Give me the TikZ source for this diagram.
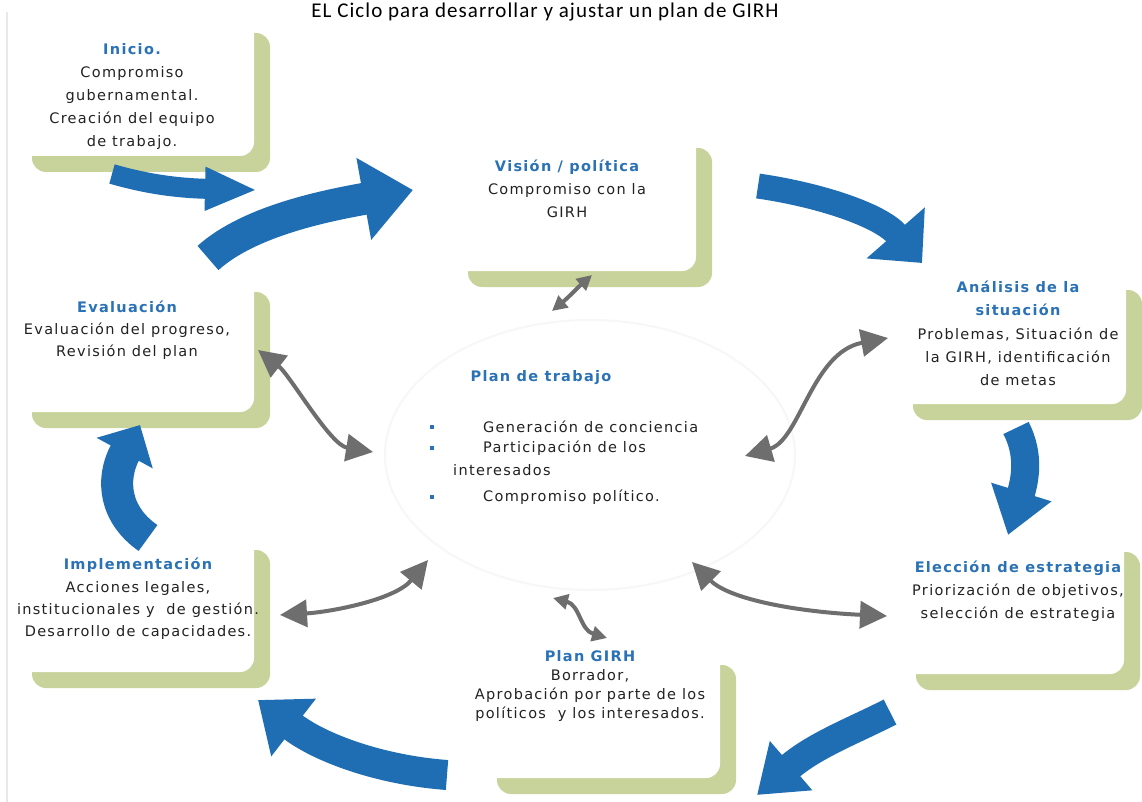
\documentclass[tikz,border=0pt]{standalone}
\usepackage{fontspec}
\setmainfont{DejaVu Sans}[LetterSpace=9]
\newfontfamily\ttlfont{Carlito}[LetterSpace=5]
\usetikzlibrary{arrows.meta,shadows}
\definecolor{grn}{HTML}{C8D39B}
\definecolor{blu}{HTML}{1F6EB4}
\definecolor{ttl}{HTML}{2A72B5}
\definecolor{gry}{HTML}{6E6E6E}
\definecolor{txtc}{HTML}{222222}
\newcommand\myfs[2]{\fontsize{#1}{#2}\selectfont}
\newcommand\hd[1]{{\bfseries\color{ttl}#1}}
\begin{document}
\begin{tikzpicture}[x=1pt,y=-1pt,
  box/.style={fill=white, rounded corners=14pt, inner sep=0pt,
    drop shadow={fill=grn, opacity=1, shadow xshift=16pt, shadow yshift=-16pt}},
  txt/.style={anchor=north, inner sep=0pt, align=center, text=txtc},
  bluarr/.style={draw=blu, line cap=butt},
  gryarr/.style={draw=gry, line width=4pt, {Triangle[length=#1,width=#1]}-{Triangle[length=#1,width=#1]}},
  bul/.style={fill=ttl, minimum size=4pt, inner sep=0pt}]
\useasboundingbox (0,0) rectangle (1142,802);
\fill[white] (0,0) rectangle (1142,802);
\draw[gray!18, line width=2pt] (7,12) -- (7,802);

% title
\node[font=\ttlfont\myfs{21}{24}, anchor=base, inner sep=0pt] (title) at (545,18) {EL Ciclo para desarrollar y ajustar un plan de GIRH};

% central ellipse
\draw[gray!6, line width=2pt] (590,455) ellipse [x radius=205, y radius=135];

% boxes
\node[box, minimum width=238pt, minimum height=139pt] (ini) at (135,86.5) {};
\node[box, minimum width=238pt, minimum height=136pt] (eva) at (135,344) {};
\node[box, minimum width=238pt, minimum height=138pt] (imp) at (135,603) {};
\node[box, minimum width=244pt, minimum height=139pt] (vis) at (574,201.5) {};
\node[box, minimum width=229pt, minimum height=130pt] (ana) at (1011.5,339) {};
\node[box, minimum width=224pt, minimum height=138pt] (ele) at (1012,605) {};
\node[box, minimum width=239pt, minimum height=129pt] (pla) at (600.5,713.5) {};

% blue cycle arrows
\coordinate (a1s) at (112,174); \coordinate (a1e) at (257,190);
\draw[bluarr, line width=20pt, -{Triangle[length=52pt,width=40pt]}] (a1s) .. controls (140,182) and (170,188) .. (a1e);
\coordinate (a2s) at (208,258); \coordinate (a2e) at (413,190);
\draw[bluarr, line width=32pt, -{Triangle[length=50pt,width=80pt]}] (a2s) .. controls (250,220) and (330,205) .. (a2e);
\coordinate (a3s) at (758,186); \coordinate (a3e) at (922,263);
\draw[bluarr, line width=25pt, -{Triangle[length=40pt,width=75pt]}] (a3s) .. controls (820,195) and (880,215) .. (a3e);
\coordinate (a4s) at (1016,428); \coordinate (a4e) at (1008,535);
\draw[bluarr, line width=28pt, -{Triangle[length=45pt,width=60pt]}] (a4s) .. controls (1030,455) and (1025,480) .. (a4e);
\coordinate (a5s) at (890,712); \coordinate (a5e) at (757,795);
\draw[bluarr, line width=28pt, -{Triangle[length=45pt,width=62pt]}] (a5s) .. controls (855,730) and (815,745) .. (a5e);
\coordinate (a6s) at (447,775); \coordinate (a6e) at (258,700);
\draw[bluarr, line width=30pt, -{Triangle[length=45pt,width=70pt]}] (a6s) .. controls (380,770) and (320,748) .. (a6e);
\coordinate (a7s) at (148,538); \coordinate (a7e) at (140,425);
\draw[bluarr, line width=32pt, -{Triangle[length=32pt,width=62pt]}] (a7s) .. controls (115,515) and (110,480) .. (a7e);

% grey double arrows
\coordinate (g1a) at (592,275); \coordinate (g1b) at (552,311);
\draw[gryarr=15pt] (g1a) .. controls (575,290) and (570,296) .. (g1b);
\coordinate (g2a) at (745,456); \coordinate (g2b) at (888,338);
\draw[gryarr=27pt] (g2a) .. controls (800,440) and (812,352) .. (g2b);
\coordinate (g3a) at (258,350); \coordinate (g3b) at (373,452);
\draw[gryarr=27pt] (g3a) .. controls (290,375) and (330,445) .. (g3b);
\coordinate (g4a) at (280,615); \coordinate (g4b) at (428,560);
\draw[gryarr=27pt] (g4a) .. controls (330,612) and (395,600) .. (g4b);
\coordinate (g5a) at (553,598); \coordinate (g5b) at (607,638);
\draw[gryarr=15pt] (g5a) .. controls (580,605) and (580,630) .. (g5b);
\coordinate (g6a) at (692,562); \coordinate (g6b) at (887,616);
\draw[gryarr=27pt] (g6a) .. controls (730,600) and (800,612) .. (g6b);

% box texts
\node[txt, font=\myfs{14.5}{23}] (iniT) at (132,38) {\strut\hd{Inicio.}\\Compromiso\\gubernamental.\\Creación del equipo\\de trabajo.};
\node[txt, font=\myfs{14.5}{23}] (visT) at (567,155) {\strut\hd{Visión / política}\\Compromiso con la\\GIRH};
\node[txt, font=\myfs{14.5}{23.3}] (anaT) at (1018,276) {\strut\hd{Análisis de la}\\\hd{situación}\\Problemas, Situación de\\la GIRH, identificación\\de metas};
\node[txt, font=\myfs{14.5}{22}] (evaT) at (127,297) {\strut\hd{Evaluación}\\Evaluación del progreso,\\Revisión del plan};
\node[txt, font=\myfs{14.5}{22.3}] (impT) at (138,554) {\strut\hd{Implementación}\\Acciones legales,\\institucionales y\ \ de gestión.\\Desarrollo de capacidades.};
\node[txt, font=\myfs{14.5}{23}] (eleT) at (1018,556) {\strut\hd{Elección de estrategia}\\Priorización de objetivos,\\selección de estrategia};
\node[txt, font=\myfs{14.5}{19}] (plaT) at (590,648) {\strut\hd{Plan GIRH}\\Borrador,\\Aprobación por parte de los\\políticos\ \ y los interesados.};

% central text
\node[inner sep=0pt, font=\myfs{14.5}{16}\bfseries, text=ttl] (ptT) at (541,378) {Plan de trabajo};
\node[bul] (b1) at (432,427) {};
\node[bul] (b2) at (432,448) {};
\node[bul] (b3) at (432,497) {};
\node[anchor=west, inner sep=0pt, font=\myfs{14.5}{16}, text=txtc] (c1) at (483,427) {Generación de conciencia};
\node[anchor=west, inner sep=0pt, font=\myfs{14.5}{16}, text=txtc] (c2) at (483,448) {Participación de los};
\node[anchor=west, inner sep=0pt, font=\myfs{14.5}{16}, text=txtc] (c3) at (453,470) {interesados};
\node[anchor=west, inner sep=0pt, font=\myfs{14.5}{16}, text=txtc] (c4) at (483,497) {Compromiso político.};
\end{tikzpicture}
\end{document}
